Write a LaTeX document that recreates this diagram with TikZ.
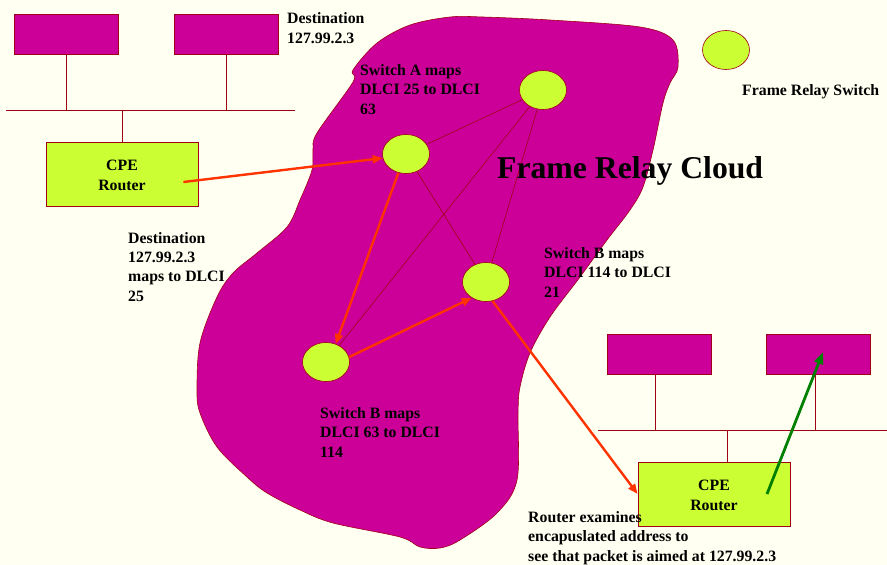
\documentclass[tikz,border=0pt]{standalone}
\usepackage{fontspec}
\setmainfont{Liberation Serif}
\usetikzlibrary{shapes.geometric,arrows.meta}
\definecolor{bg}{RGB}{255,255,242}
\definecolor{mag}{RGB}{204,0,153}
\definecolor{lime}{RGB}{204,255,51}
\definecolor{dred}{RGB}{160,0,20}
\definecolor{arr}{RGB}{255,51,0}
\definecolor{grn}{RGB}{0,128,0}
\begin{document}
\begin{tikzpicture}[x=1pt,y=-1pt,
 host/.style={draw=dred,fill=mag,line width=0.8pt,minimum width=104pt,minimum height=40pt,inner sep=0pt},
 router/.style={draw=dred,fill=lime,line width=0.8pt,minimum width=152pt,minimum height=64pt,inner sep=0pt,align=center,text height=32pt,text depth=0pt,font=\bfseries\fontsize{15.8}{19.3}\selectfont},
 switch/.style={ellipse,draw=dred,fill=lime,line width=0.6pt,minimum width=47pt,minimum height=39pt,inner sep=0pt},
 wire/.style={draw=dred,line width=0.8pt},
 link/.style={draw=dred,line width=0.6pt},
 flow/.style={draw=arr,line width=2.4pt,-{Triangle[length=10pt,width=8pt]}},
 gflow/.style={draw=grn,line width=2.8pt,-{Triangle[length=12pt,width=9pt]}},
 lbl/.style={anchor=base west,inner sep=0pt,align=left,font=\bfseries\fontsize{15.8}{19.3}\selectfont}
]
\path[use as bounding box,fill=bg] (0,0) rectangle (887,565);

% cloud
\filldraw[fill=mag,draw=dred,line width=0.6pt] plot[smooth cycle,tension=0.55] coordinates {
 (450,17) (483,17) (550,20) (640,27) (673,40) (678,67) (670,83) (663,103) (653,150)
 (643,187) (630,210) (607,240) (580,277) (550,317) (530,353) (520,387) (518,413)
 (517,480) (497,513) (460,540) (440,548) (420,547) (400,537) (333,523) (300,510)
 (267,493) (247,477) (217,447) (200,413) (197,390) (200,343) (217,297) (233,273)
 (257,253) (287,227) (300,200) (312,170) (313,150) (317,133) (353,82) (353,70)
 (377,43) (410,25)};

% left network
\node[host] (h1) at (66,34) {};
\node[host] (h2) at (226,34) {};
\node[router] (r1) at (122,174) {CPE\\Router};
\coordinate (busL1) at (6,110);
\coordinate (busR1) at (295,110);
\draw[wire] (busL1) -- (busR1);
\draw[wire] (h1.south) -- (h1.south |- busL1);
\draw[wire] (h2.south) -- (h2.south |- busL1);
\draw[wire] (r1.north) -- (r1.north |- busL1);

% right network
\node[host] (h3) at (659,354) {};
\node[host] (h4) at (818,354) {};
\node[router] (r2) at (714,494) {CPE\\Router};
\coordinate (busL2) at (598,430);
\coordinate (busR2) at (887,430);
\draw[wire] (busL2) -- (busR2);
\draw[wire] (h3.south -| 655,0) -- (655,430);
\draw[wire] (h4.south -| 815,0) -- (815,430);
\draw[wire] (r2.north -| 727,0) -- (727,430);

% switches
\node[switch] (A) at (406,154) {};
\node[switch] (T) at (543,90) {};
\node[switch] (B) at (486,282) {};
\node[switch] (L) at (326,362) {};
\node[switch] (K) at (726,50) {};
\draw[link] (A) -- (T);
\draw[link] (A) -- (B);
\draw[link] (T) -- (L);
\draw[link] (T) -- (B);

% flows
\draw[flow] ([shift={(-15,8)}]r1.east) -- (A.190);
\draw[flow] (A.248) -- (L.62);
\draw[flow] (L.12) -- (B.228);
\draw[flow] (B.289) -- (r2.west);
\draw[gflow] ([shift={(53,0)}]r2.center) -- ([shift={(5,-2)}]h4.center);

% labels (anchored at the baseline of the last line)
\node[lbl] (t1) at (287,43) {Destination\\127.99.2.3};
\node[lbl] (t2) at (360,114) {Switch A maps\\DLCI 25 to DLCI\\63};
\node[lbl] (t3) at (128,301) {Destination\\127.99.2.3\\maps to DLCI\\25};
\node[lbl] (t4) at (544,297) {Switch B maps\\DLCI 114 to DLCI\\21};
\node[lbl] (t5) at (320,457) {Switch B maps\\DLCI 63 to DLCI\\114};
\node[lbl] (t6) at (528,561) {Router examines\\encapuslated address to\\see that packet is aimed at 127.99.2.3};
\node[lbl] (t7) at (742,95) {Frame Relay Switch};
\node[anchor=base west,inner sep=0pt,font=\bfseries\fontsize{31.7}{36}\selectfont] (t8) at (497,178) {Frame Relay Cloud};
\end{tikzpicture}
\end{document}
